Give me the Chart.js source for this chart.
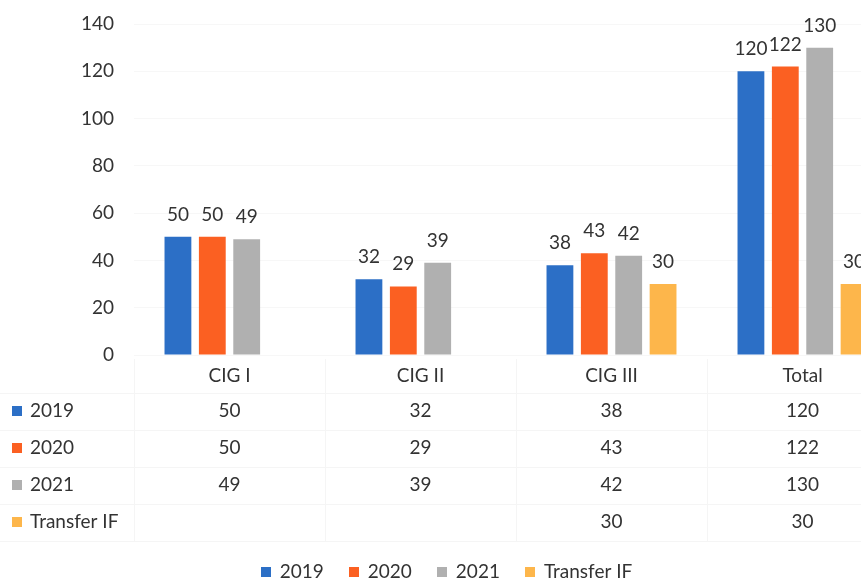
<!DOCTYPE html>
<html>
<head>
<meta charset="utf-8">
<script src="https://cdn.jsdelivr.net/npm/chart.js@4/dist/chart.umd.min.js"></script>
<style>
    html, body { margin: 0; padding: 0; background: #fff; overflow: hidden; }
    #wrap { width: 861px; height: 583px; overflow: hidden; }
</style>
</head>
<body>
<div id="wrap"><canvas id="cigChart" width="900" height="583"></canvas></div>
<script>
const categories = ['CIG I', 'CIG II', 'CIG III', 'Total'];
const seriesNames = ['2019', '2020', '2021', 'Transfer IF'];
const values2019 = [50, 32, 38, 120];
const values2020 = [50, 29, 43, 122];
const values2021 = [49, 39, 42, 130];
const valuesTransfer = [null, null, 30, 30];
const yTicks = [0, 20, 40, 60, 80, 100, 120, 140];

const colors = ['#2c6fc6', '#fb6022', '#b0b0b0', '#fdb64b'];
const textColor = '#333333';
const fontFamily = 'Lato, "Open Sans", sans-serif';
const fontSize = 19;

// labels above the bars
const barLabels = {
    id: 'barLabels',
    afterDatasetsDraw(chart) {
        const ctx = chart.ctx;
        ctx.save();
        ctx.font = `${fontSize}px ${fontFamily}`;
        ctx.fillStyle = textColor;
        ctx.textAlign = 'center';
        ctx.textBaseline = 'alphabetic';
        chart.data.datasets.forEach((ds, i) => {
            const meta = chart.getDatasetMeta(i);
            meta.data.forEach((bar, j) => {
                if (ds.data[j] == null) return;
                ctx.fillText(ds.data[j], bar.x, bar.y - 16);
            });
        });
        ctx.restore();
    }
};

// data table under the plot + legend
const dataTable = {
    id: 'dataTable',
    afterDraw(chart) {
        const ctx = chart.ctx;
        const x = chart.scales.x;
        const area = chart.chartArea;
        const headerY = area.bottom + 21;
        const rowY = k => area.bottom + 56 + k * 37;
        const catW = (area.right - area.left) / categories.length;

        ctx.save();
        // faint table lines
        ctx.strokeStyle = '#f5f5f5';
        ctx.lineWidth = 1;
        ctx.beginPath();
        for (let k = 0; k <= seriesNames.length; k++) {
            const y = Math.round(rowY(k) - 18.5) + 0.5;
            ctx.moveTo(0, y);
            ctx.lineTo(chart.width, y);
        }
        for (let c = 0; c <= categories.length; c++) {
            const lx = Math.round(area.left + c * catW) + 0.5;
            ctx.moveTo(lx, area.bottom + 4);
            ctx.lineTo(lx, rowY(seriesNames.length) - 18);
        }
        ctx.stroke();

        ctx.font = `${fontSize}px ${fontFamily}`;
        ctx.fillStyle = textColor;
        ctx.textBaseline = 'middle';
        ctx.textAlign = 'center';
        categories.forEach((c, i) => ctx.fillText(c, x.getPixelForValue(i), headerY));

        chart.data.datasets.forEach((ds, k) => {
            const y = rowY(k);
            ctx.fillStyle = ds.backgroundColor;
            ctx.fillRect(12, Math.round(y - 5), 10, 10);
            ctx.fillStyle = textColor;
            ctx.textAlign = 'left';
            ctx.fillText(ds.label, 30, y);
            ctx.textAlign = 'center';
            ds.data.forEach((v, i) => {
                if (v == null) return;
                ctx.fillText(v, x.getPixelForValue(i), y);
            });
        });

        // legend
        const legendY = 572;
        const widths = chart.data.datasets.map(ds => 10 + 9 + ctx.measureText(ds.label).width);
        const gap = 25;
        const total = widths.reduce((a, b) => a + b, 0) + gap * (widths.length - 1);
        let lx = 446.5 - total / 2;
        ctx.textAlign = 'left';
        chart.data.datasets.forEach((ds, k) => {
            ctx.fillStyle = ds.backgroundColor;
            ctx.fillRect(Math.round(lx), Math.round(legendY - 5), 10, 10);
            ctx.fillStyle = textColor;
            ctx.fillText(ds.label, lx + 19, legendY);
            lx += widths[k] + gap;
        });
        ctx.restore();
    }
};

const ctx = document.getElementById('cigChart').getContext('2d');
new Chart(ctx, {
    type: 'bar',
    data: {
        labels: categories,
        datasets: [
            { label: seriesNames[0], data: values2019, backgroundColor: colors[0] },
            { label: seriesNames[1], data: values2020, backgroundColor: colors[1] },
            { label: seriesNames[2], data: values2021, backgroundColor: colors[2] },
            { label: seriesNames[3], data: valuesTransfer, backgroundColor: colors[3] }
        ]
    },
    options: {
        responsive: false,
        animation: false,
        categoryPercentage: 0.72,
        barPercentage: 0.78,
        layout: { padding: { top: 24, bottom: 228, left: 0, right: 2 } },
        plugins: {
            legend: { display: false },
            tooltip: { enabled: false }
        },
        scales: {
            x: { display: false },
            y: {
                min: 0,
                max: 140,
                afterBuildTicks: s => { s.ticks = yTicks.map(v => ({ value: v })); },
                afterFit: s => { s.width = 134; s.paddingTop = 0; s.paddingBottom = 0; },
                ticks: {
                    padding: 20,
                    color: textColor,
                    font: { family: fontFamily, size: fontSize }
                },
                grid: { color: '#f7f7f7', drawTicks: false },
                border: { display: false }
            }
        }
    },
    plugins: [barLabels, dataTable]
});
</script>
</body>
</html>
